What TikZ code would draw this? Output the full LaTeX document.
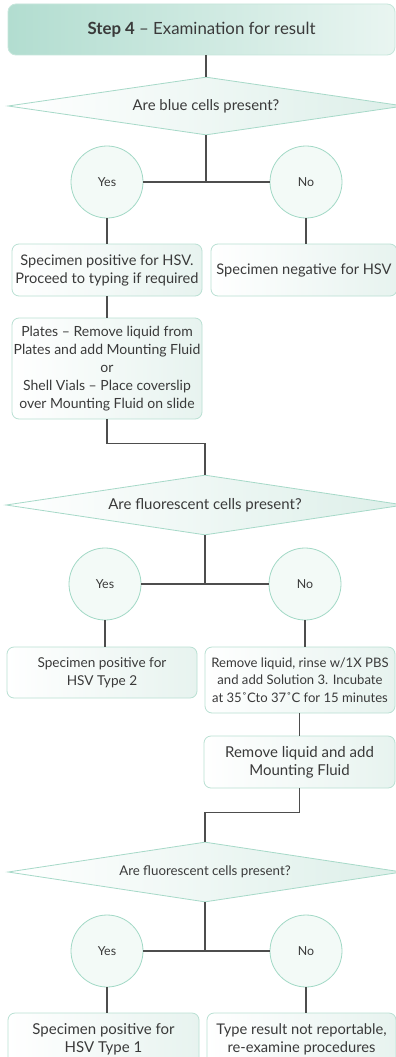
\documentclass[tikz,border=0pt]{standalone}
\usepackage{fontspec}
\setmainfont{Lato}
\usetikzlibrary{shapes.geometric,calc}
\definecolor{txt}{HTML}{3A3A3A}
\definecolor{ln}{HTML}{4D4D4D}
\definecolor{hdrL}{HTML}{B2DDD0}
\definecolor{hdrR}{HTML}{E9F5F1}
\definecolor{hdrB}{HTML}{C6E6DB}
\definecolor{bxR}{HTML}{E7F3EF}
\definecolor{bxB}{HTML}{B9E0D3}
\definecolor{dmR}{HTML}{DDEFE9}
\definecolor{dmB}{HTML}{A6D9C8}
\definecolor{ciF}{HTML}{F3FAF7}
\definecolor{ciB}{HTML}{A2D9C6}
\tikzset{
  hdrbox/.style={draw=hdrB, line width=0.8pt, rounded corners=8pt, left color=hdrL, right color=hdrR, text=txt, inner sep=0pt, align=center},
  stepbox/.style={draw=bxB, line width=0.8pt, rounded corners=7pt, left color=white, right color=bxR, text=txt, inner sep=0pt, align=center},
  decision/.style={diamond, aspect=6.7, draw=dmB, line width=0.8pt, left color=white, right color=dmR, text=txt, inner sep=0pt},
  answer/.style={circle, draw=ciB, line width=0.8pt, fill=ciF, text=txt, inner sep=0pt, minimum size=72pt, font=\fontsize{12.4}{14}\selectfont},
  conn/.style={draw=ln, line width=1.1pt}
}
\begin{document}
\begin{tikzpicture}[x=1pt,y=-1pt]
\clip (0,0) rectangle (396,1057);
\fill[white] (0,0) rectangle (396,1057);

% header
\node[hdrbox, minimum width=387pt, minimum height=51pt, font=\fontsize{16.8}{19}\selectfont] (hdr) at (201.5,29.5) {\textbf{Step 4} -- Examination for result};

% decision 1
\node[decision, minimum width=396pt, minimum height=58pt, font=\fontsize{14.9}{17}\selectfont] (d1) at (206,106) {Are blue cells present?};
\node[answer] (y1) at (107,182) {Yes};
\node[answer] (n1) at (306,182) {No};
\node[stepbox, minimum width=190pt, minimum height=52pt, font=\fontsize{14.6}{18}\selectfont] (b1) at (107,270) {Specimen positive for HSV.\\Proceed to typing if required};
\node[stepbox, minimum width=186pt, minimum height=52pt, font=\fontsize{14.6}{18}\selectfont] (b2) at (304,270) {Specimen negative for HSV};
\node[stepbox, minimum width=190pt, minimum height=101pt, font=\fontsize{14}{18}\selectfont] (b3) at (107,368.5) {Plates -- Remove liquid from\\Plates and add Mounting Fluid\\or\\Shell Vials -- Place coverslip\\over Mounting Fluid on slide};

% decision 2
\node[decision, minimum width=398pt, minimum height=60pt, font=\fontsize{15}{17}\selectfont] (d2) at (205,505) {Are fluorescent cells present?};
\node[answer] (y2) at (105,584) {Yes};
\node[answer] (n2) at (305,584) {No};
\node[stepbox, minimum width=190pt, minimum height=51pt, font=\fontsize{13.6}{17.5}\selectfont] (b4) at (102,672.5) {Specimen positive for\\HSV Type 2};
\node[stepbox, minimum width=190pt, minimum height=66pt, font=\fontsize{13.1}{17.5}\selectfont] (b5) at (300,680) {Remove liquid, rinse w/1X PBS\\and add Solution 3. Incubate\\at 35˚Cto 37˚C for 15 minutes};
\node[stepbox, minimum width=191pt, minimum height=52pt, font=\fontsize{15}{18}\selectfont] (b6) at (299.5,762) {Remove liquid and add\\Mounting Fluid};

% decision 3
\node[decision, minimum width=394pt, minimum height=60pt, font=\fontsize{13.3}{15}\selectfont] (d3) at (205,872) {Are fluorescent cells present?};
\node[answer] (y3) at (107,951) {Yes};
\node[answer] (n3) at (306,951) {No};
\node[stepbox, minimum width=191pt, minimum height=52pt, font=\fontsize{15}{18}\selectfont] (b7) at (103.5,1039) {Specimen positive for\\HSV Type 1};
\node[stepbox, minimum width=189pt, minimum height=52pt, font=\fontsize{14.7}{18}\selectfont] (b8) at (301.5,1039) {Type result not reportable,\\re-examine procedures};

% connectors
\draw[conn] (d1.north |- hdr.south) -- (d1.north);
\coordinate (j1) at (d1.south |- y1.east);
\draw[conn] (d1.south) -- (j1);
\draw[conn] (y1.east) -- (n1.west);
\draw[conn] (y1.south) -- (y1.south |- b1.north);
\draw[conn] (n1.south) -- (n1.south |- b2.north);
\draw[conn] (b1.south) -- (b3.north);
\coordinate (k1) at ($(b3.south)+(0,24)$);
\draw[conn] (b3.south) -- (k1) -| (d2.north);

\coordinate (j2) at (d2.south |- y2.east);
\draw[conn] (d2.south) -- (j2);
\draw[conn] (y2.east) -- (n2.west);
\draw[conn] (y2.south) -- (y2.south |- b4.north);
\draw[conn] (n2.south) -- (n2.south |- b5.north);
\draw[conn] (b5.south -| b6.north) -- (b6.north);
\coordinate (k2) at ($(b6.south)+(0,24)$);
\draw[conn] (b6.south) -- (k2) -| (d3.north);

\coordinate (j3) at (d3.south |- y3.east);
\draw[conn] (d3.south) -- (j3);
\draw[conn] (y3.east) -- (n3.west);
\draw[conn] (y3.south) -- (y3.south |- b7.north);
\draw[conn] (n3.south) -- (n3.south |- b8.north);
\end{tikzpicture}
\end{document}
